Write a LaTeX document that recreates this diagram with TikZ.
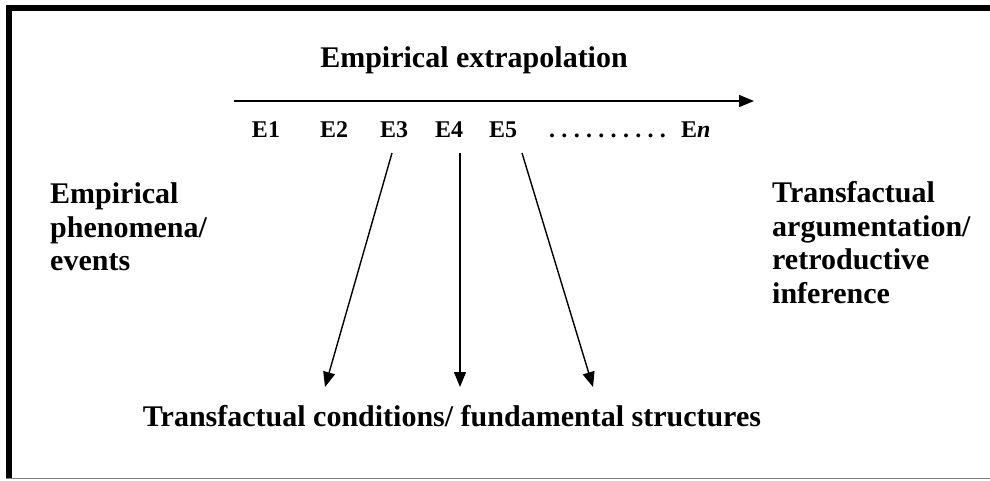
\documentclass[tikz,border=0pt]{standalone}
\usepackage{fontspec}
\setmainfont{Liberation Serif}
\usetikzlibrary{arrows.meta}
\newcommand{\dotgap}{\hspace{6.3pt}}
\begin{document}
\begin{tikzpicture}[x=1pt,y=-1pt,
  lbl/.style={font=\fontsize{30}{33.5}\selectfont\bfseries, inner sep=0pt, align=left},
  ev/.style={font=\fontsize{24}{26}\selectfont\bfseries, inner sep=0pt, anchor=base},
  conn/.style={line width=1.4pt, -{Triangle[length=15pt,width=12pt]}}]
\useasboundingbox (0,0) rectangle (990,480);
\fill[white] (0,0) rectangle (990,480);
% frame
\draw[line width=6pt, line join=miter] (8.5,478) -- (8.5,8) -- (990,8);
\draw[gray, line width=1.5pt] (6,478.5) -- (990,478.5);
% title and top arrow
\node[lbl, anchor=base] (title) at (474,67) {Empirical extrapolation};
\coordinate (a0) at (234,101);
\coordinate (a1) at (754,101);
\draw[conn] (a0) -- (a1);
% events
\node[ev] (e1) at (266,137) {E1};
\node[ev] (e2) at (334,137) {E2};
\node[ev] (e3) at (394,137) {E3};
\node[ev] (e4) at (449,137) {E4};
\node[ev] (e5) at (503,137) {E5};
\node[ev, anchor=base west] (dots) at (549,137) {.\dotgap.\dotgap.\dotgap.\dotgap.\dotgap.\dotgap.\dotgap.\dotgap.\dotgap.};
\node[ev, anchor=base west] (en) at (681,137) {E\textit{n}};
% side labels
\node[lbl, anchor=north west] (left) at (50,182.7) {Empirical\\phenomena/\\events};
\node[lbl, anchor=north west] (right) at (772,181.3) {Transfactual\\argumentation/\\retroductive\\inference};
% bottom label
\node[lbl, anchor=base] (bottom) at (452,426) {Transfactual conditions/ fundamental structures};
% connectors
\coordinate (s3) at (392,153);
\coordinate (s4) at (460,153);
\coordinate (s5) at (522,153);
\coordinate (t3) at (325,387);
\coordinate (t4) at (460,387);
\coordinate (t5) at (593,387);
\draw[conn] (s3) -- (t3);
\draw[conn] (s4) -- (t4);
\draw[conn] (s5) -- (t5);
\end{tikzpicture}
\end{document}
